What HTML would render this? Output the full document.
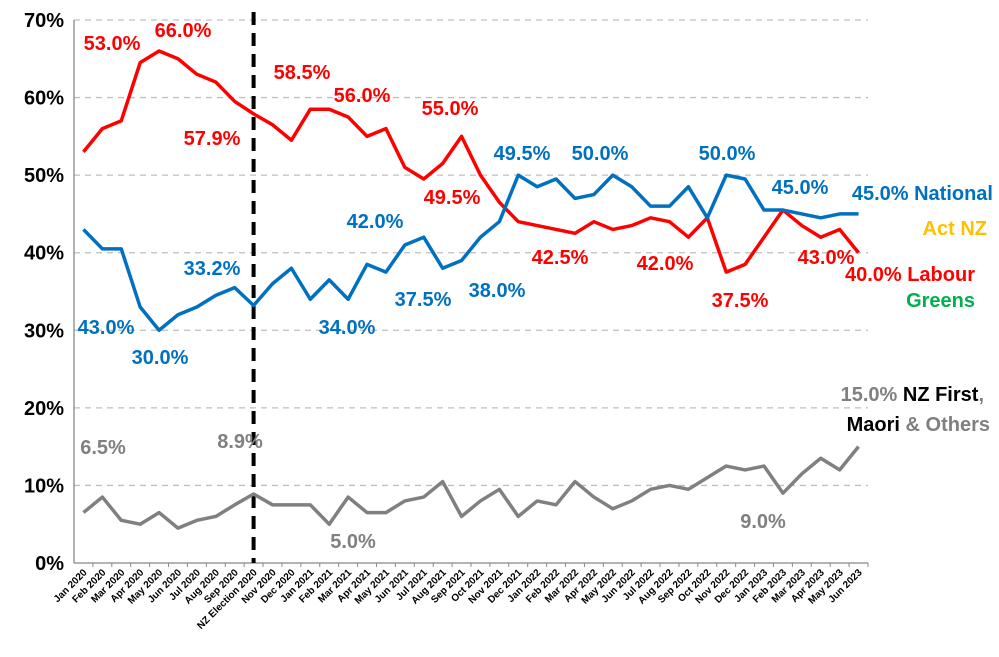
<!DOCTYPE html>
<html><head><meta charset="utf-8"><style>
html,body{margin:0;padding:0;background:#fff;}
svg text{font-family:"Liberation Sans",sans-serif;font-weight:bold;}
</style></head><body>
<svg id="chart" width="999" height="652" viewBox="0 0 999 652" xmlns="http://www.w3.org/2000/svg">
<g id="grid"></g><g id="axes"></g><g id="series"></g><g id="labels"></g>
</svg>
<script>
const categories=["Jan 2020","Feb 2020","Mar 2020","Apr 2020","May 2020","Jun 2020","Jul 2020","Aug 2020","Sep 2020","NZ Election 2020","Nov 2020","Dec 2020","Jan 2021","Feb 2021","Mar 2021","Apr 2021","May 2021","Jun 2021","Jul 2021","Aug 2021","Sep 2021","Oct 2021","Nov 2021","Dec 2021","Jan 2022","Feb 2022","Mar 2022","Apr 2022","May 2022","Jun 2022","Jul 2022","Aug 2022","Sep 2022","Oct 2022","Nov 2022","Dec 2022","Jan 2023","Feb 2023","Mar 2023","Apr 2023","May 2023","Jun 2023"];
const labour=[53,56,57,64.5,66,65,63,62,59.5,57.9,56.5,54.5,58.5,58.5,57.5,55,56,51,49.5,51.5,55,50,46.5,44,43.5,43,42.5,44,43,43.5,44.5,44,42,44.5,37.5,38.5,42,45.5,43.5,42,43,40];
const national=[43,40.5,40.5,33,30,32,33,34.5,35.5,33.2,36,38,34,36.5,34,38.5,37.5,41,42,38,39,42,44,50,48.5,49.5,47,47.5,50,48.5,46,46,48.5,44.5,50,49.5,45.5,45.5,45,44.5,45,45];
const others=[6.5,8.5,5.5,5,6.5,4.5,5.5,6,7.5,8.9,7.5,7.5,7.5,5,8.5,6.5,6.5,8,8.5,10.5,6,8,9.5,6,8,7.5,10.5,8.5,7,8,9.5,10,9.5,11,12.5,12,12.5,9,11.5,13.5,12,15];
const yTicks=[0,10,20,30,40,50,60,70];
const NS="http://www.w3.org/2000/svg";
const x0=74,x1=868,yBase=563,yTop=20;
const cw=(x1-x0)/categories.length;
const X=i=>x0+cw*(i+0.5);
const Y=v=>yBase-(v/70)*(yBase-yTop);
function mk(tag,attrs,parent,txt){const e=document.createElementNS(NS,tag);for(const k in attrs)e.setAttribute(k,attrs[k]);if(txt!==undefined)e.textContent=txt;document.getElementById(parent).appendChild(e);return e;}
yTicks.forEach(t=>{
  if(t>0){const g=mk('line',{x1:x0,x2:x1,y1:Y(t),y2:Y(t),stroke:'#bfbfbf','stroke-width':1.3,'stroke-dasharray':'6,5'},'grid');
  
  }
  const l=mk('text',{x:64,y:Y(t)+7,'text-anchor':'end','font-size':20,fill:'#000'},'axes',t+'%');
  
  
});
const ax=mk('line',{x1:x0,x2:x0,y1:yTop,y2:yBase,stroke:'#888','stroke-width':1.3},'axes');


const bx=mk('line',{x1:x0,x2:x1,y1:yBase,y2:yBase,stroke:'#888','stroke-width':1.3},'axes');


categories.forEach((c,i)=>{
  mk('line',{x1:x0+cw*(i+1),x2:x0+cw*(i+1),y1:yBase,y2:yBase+4,stroke:'#888'},'axes');
  const t=mk('text',{x:X(i)+4,y:yBase+10,'text-anchor':'end','font-size':10,fill:'#000',transform:`rotate(-45 ${X(i)+4} ${yBase+10})`},'axes',c);
  
  
});
const el=mk('line',{x1:X(9),x2:X(9),y1:12,y2:yBase,stroke:'#000','stroke-width':4,'stroke-dasharray':'13,8'},'axes');


function line(data,color,name){
  const p=mk('polyline',{points:data.map((v,i)=>X(i)+','+Y(v)).join(' '),fill:'none',stroke:color,'stroke-width':3.5,'stroke-linejoin':'round'},'series');
  
  
}
line(others,'#808080','others-line');
line(labour,'#ff0000','labour-line');
line(national,'#0070c0','national-line');
const labs=[
 ['53.0%',112,50,'#ff0000'],['66.0%',183,37,'#ff0000'],['58.5%',302,79,'#ff0000'],['56.0%',362,102,'#ff0000'],['55.0%',450,115,'#ff0000'],['57.9%',212,145,'#ff0000'],['49.5%',452,204,'#ff0000'],['42.5%',560,264,'#ff0000'],['42.0%',665,270,'#ff0000'],['37.5%',740,307,'#ff0000'],['43.0%',826,264,'#ff0000'],
 ['43.0%',106,334,'#0070c0'],['30.0%',160,364,'#0070c0'],['33.2%',212,275,'#0070c0'],['42.0%',375,228,'#0070c0'],['37.5%',423,306,'#0070c0'],['34.0%',347,334,'#0070c0'],['38.0%',497,297,'#0070c0'],['49.5%',522,160,'#0070c0'],['50.0%',600,160,'#0070c0'],['50.0%',727,160,'#0070c0'],['45.0%',800,194,'#0070c0'],
 ['6.5%',103,454,'#808080'],['8.9%',240,448,'#808080'],['5.0%',353,548,'#808080'],['9.0%',763,528,'#808080']
];
labs.forEach(l=>{const t=mk('text',{x:l[1],y:l[2],'text-anchor':'middle','font-size':20,fill:l[3]},'labels',l[0]);
 
 });
</script>
<svg style="position:absolute;left:0;top:0" width="999" height="652">
<text x="993" y="200" text-anchor="end" font-size="20" fill="#0070c0">45.0% National</text>
<text x="987" y="235" text-anchor="end" font-size="20" fill="#ffc000">Act NZ</text>
<text x="975" y="281" text-anchor="end" font-size="20" fill="#ff0000">40.0% Labour</text>
<text x="975" y="307" text-anchor="end" font-size="20" fill="#00b050">Greens</text>
<text x="984" y="401" text-anchor="end" font-size="20"><tspan fill="#808080">15.0% </tspan><tspan fill="#000">NZ First</tspan><tspan fill="#808080">,</tspan></text>
<text x="990" y="431" text-anchor="end" font-size="20"><tspan fill="#000">Maori </tspan><tspan fill="#808080">&amp; Others</tspan></text>
</svg>
</body></html>
